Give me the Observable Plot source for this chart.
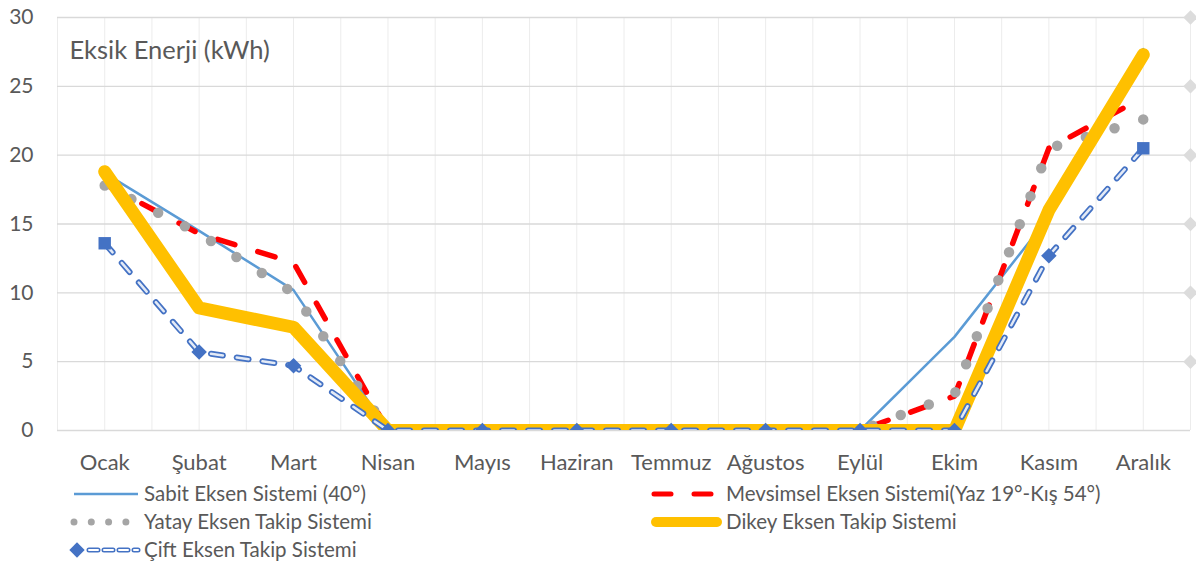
<!DOCTYPE html>
<html>
<head>
<meta charset="utf-8">
<script src="https://cdn.jsdelivr.net/npm/d3@7"></script>
<script src="https://cdn.jsdelivr.net/npm/@observablehq/plot@0.6"></script>
<style>
  html, body { margin: 0; padding: 0; background: #fff; }
  #wrap { width: 1196px; height: 567px; position: relative; overflow: hidden; font-family: Lato, "Open Sans", sans-serif; }
  #legend { position: absolute; left: 0; top: 480px; }
</style>
</head>
<body>
<div id="wrap"><div id="chart"></div><div id="legend"></div></div>
<script>
const months = ["Ocak","Şubat","Mart","Nisan","Mayıs","Haziran","Temmuz","Ağustos","Eylül","Ekim","Kasım","Aralık"];
const yTicks = [0, 5, 10, 15, 20, 25, 30];
const sabit     = [18.7, 14.5, 10.2, 0, 0, 0, 0, 0, 0, 6.8, 15.5, 27.7];
const mevsimsel = [17.9, 14.3, 12.2, 0, 0, 0, 0, 0, 0, 2.5, 20.5, 24.2];
const yatay     = [17.8, 14.3, 10.0, 0, 0, 0, 0, 0, 0, 2.6, 20.5, 22.6];
const dikey     = [18.8, 8.9, 7.5, 0, 0, 0, 0, 0, 0, 0, 16.0, 27.3];
const cift      = [13.6, 5.7, 4.7, 0, 0, 0, 0, 0, 0, 0, 12.7, 20.5];
const seriesNames = [
  "Sabit Eksen Sistemi (40°)",
  "Mevsimsel Eksen Sistemi(Yaz 19°-Kış 54°)",
  "Yatay Eksen Takip Sistemi",
  "Dikey Eksen Takip Sistemi",
  "Çift Eksen Takip Sistemi"
];
const yLabel = "Eksik Enerji (kWh)";

const C = { sabit: "#5b9bd5", mev: "#ff0000", yat: "#a5a5a5", dik: "#ffc000", cift: "#4472c4", text: "#595959" };
const X = (d, i) => i, Y = d => d;

const chart = Plot.plot({
  width: 1196, height: 480,
  marginTop: 17, marginBottom: 50, marginLeft: 57, marginRight: 6,
  x: { domain: [-0.5, 11.5], axis: null },
  y: { domain: [0, 30], axis: null },
  style: { fontFamily: "Lato, 'Open Sans', sans-serif", color: C.text, background: "white", overflow: "visible" },
  marks: [
    Plot.ruleX(d3.range(-0.5, 11.51, 0.5), { stroke: "#ececec", strokeWidth: 1 }),
    Plot.ruleY(yTicks, { stroke: "#d9d9d9", strokeWidth: 1.3 }),
    Plot.dot(yTicks.filter(v => v > 0), { x: () => 11.5, y: v => v, symbol: "diamond2", r: 6.5, fill: "#dcdcdc" }),
    Plot.axisY(yTicks, { tickSize: 0, tickPadding: 24, fontSize: 21, label: null, fill: C.text }),
    Plot.axisX(d3.range(12), { tickFormat: i => months[i], tickSize: 0, tickPadding: 24, fontSize: 22, label: null, fill: C.text }),
    Plot.text([yLabel], { frameAnchor: "top-left", textAnchor: "start", lineAnchor: "middle", dx: 12, dy: 33, fontSize: 25.5, fill: C.text }),
    Plot.line(sabit, { x: X, y: Y, stroke: C.sabit, strokeWidth: 2.5, clip: true }),
    Plot.line(mevsimsel, { x: X, y: Y, stroke: C.mev, strokeWidth: 5.5, strokeDasharray: "18 24", strokeLinecap: "round", clip: true }),
    Plot.line(yatay, { x: X, y: Y, stroke: C.yat, strokeWidth: 10.5, strokeDasharray: "0 30", strokeLinecap: "round", clip: true }),
    Plot.line(dikey, { x: X, y: Y, stroke: C.dik, strokeWidth: 13, strokeLinejoin: "round", strokeLinecap: "round", clip: true }),
    Plot.line(cift, { x: X, y: Y, stroke: C.cift, strokeWidth: 6, strokeDasharray: "12 14", strokeLinecap: "round", clip: true }),
    Plot.line(cift, { x: X, y: Y, stroke: "white", strokeOpacity: 0.85, strokeWidth: 2.5, strokeDasharray: "12 14", strokeLinecap: "round", clip: true }),
    Plot.dot(cift, { x: X, y: Y, symbol: (d, i) => (i === 0 || i === 11) ? "square" : "diamond2", r: 7, fill: C.cift, clip: true })
  ]
});
document.getElementById("chart").appendChild(chart);

// Legend
const lg = d3.select("#legend").append("svg").attr("width", 1196).attr("height", 87);
const rows = [14, 42, 70];
const fs = 20.5;
function label(x, y, t) {
  lg.append("text").attr("x", x).attr("y", y).attr("dy", "0.35em").attr("font-size", fs)
    .attr("fill", C.text).attr("font-family", "Lato, 'Open Sans', sans-serif").text(t);
}
// Sabit
lg.append("line").attr("x1", 74).attr("x2", 138).attr("y1", rows[0]).attr("y2", rows[0]).attr("stroke", C.sabit).attr("stroke-width", 2.5);
label(144, rows[0], seriesNames[0]);
// Mevsimsel
lg.append("line").attr("x1", 654).attr("x2", 720).attr("y1", rows[0]).attr("y2", rows[0]).attr("stroke", C.mev)
  .attr("stroke-width", 5).attr("stroke-dasharray", "17 23").attr("stroke-linecap", "round");
label(726, rows[0], seriesNames[1]);
// Yatay
lg.append("line").attr("x1", 74).attr("x2", 130).attr("y1", rows[1]).attr("y2", rows[1]).attr("stroke", C.yat)
  .attr("stroke-width", 7).attr("stroke-dasharray", "0 17.3").attr("stroke-linecap", "round");
label(144, rows[1], seriesNames[2]);
// Dikey
lg.append("line").attr("x1", 656).attr("x2", 717).attr("y1", rows[1]).attr("y2", rows[1]).attr("stroke", C.dik)
  .attr("stroke-width", 10).attr("stroke-linecap", "round");
label(726, rows[1], seriesNames[3]);
// Cift
lg.append("line").attr("x1", 86).attr("x2", 138).attr("y1", rows[2]).attr("y2", rows[2]).attr("stroke", C.cift)
  .attr("stroke-width", 5).attr("stroke-dasharray", "9 6").attr("stroke-dashoffset", -3).attr("stroke-linecap", "round");
lg.append("line").attr("x1", 86).attr("x2", 138).attr("y1", rows[2]).attr("y2", rows[2]).attr("stroke", "white")
  .attr("stroke-width", 2).attr("stroke-dasharray", "9 6").attr("stroke-dashoffset", -3).attr("stroke-linecap", "round");
lg.append("path").attr("d", d3.symbol(d3.symbolDiamond2 || d3.symbolDiamond, 150)()).attr("transform", `translate(77,${rows[2]})`).attr("fill", C.cift);
label(144, rows[2], seriesNames[4]);
</script>
</body>
</html>
